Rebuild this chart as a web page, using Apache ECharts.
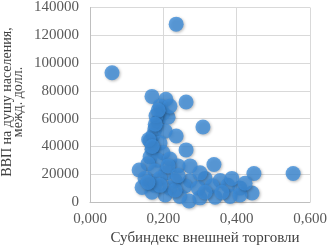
<!DOCTYPE html>
<html>
<head>
<meta charset="utf-8">
<script src="https://cdn.jsdelivr.net/npm/echarts@6/dist/echarts.min.js"></script>
<style>html,body{margin:0;padding:0;background:#fff}#c{width:332px;height:246px}</style>
</head>
<body>
<div id="c"></div>
<script>
const xTicks = ['0,000', '0,200', '0,400', '0,600'];
const yTicks = [0, 20000, 40000, 60000, 80000, 100000, 120000, 140000];
const tradeIndex = [
  0.235, 0.060, 0.169, 0.207, 0.262, 0.191, 0.199, 0.185, 0.213, 0.177,
  0.308, 0.172, 0.205, 0.235, 0.164, 0.191, 0.262, 0.169, 0.199, 0.164,
  0.185, 0.218, 0.158, 0.240, 0.273, 0.338, 0.134, 0.177, 0.207, 0.447,
  0.554, 0.150, 0.191, 0.232, 0.273, 0.314, 0.355, 0.142, 0.177, 0.218,
  0.259, 0.295, 0.333, 0.376, 0.409, 0.442, 0.205, 0.245, 0.270, 0.300,
  0.341, 0.382, 0.169, 0.409, 0.232, 0.314, 0.360, 0.191, 0.158, 0.213,
  0.300, 0.387, 0.423, 0.240, 0.180, 0.218, 0.186, 0.178, 0.160, 0.170
];
const gdpPerCapita = [
  128000, 93000, 76000, 74000, 72000, 69000, 64000, 58000, 61000, 52500,
  54000, 48000, 51000, 47500, 44000, 42500, 37500, 38000, 35500, 32500,
  30000, 31000, 27500, 26000, 26000, 27000, 23000, 22500, 21000, 20500,
  20500, 17000, 17000, 15500, 15500, 17000, 15500, 10500, 12000, 10000,
  11500, 10000, 11500, 12000, 10000, 6500, 5000, 4000, 700, 3000,
  3500, 4000, 7000, 5000, 8500, 7000, 7000, 12000, 14000, 26000,
  21000, 17000, 13500, 19000, 62000, 69000, 66000, 56000, 45000, 40000
];

const chart = echarts.init(document.getElementById('c'), null, {renderer: 'canvas'});
const serif = '"Liberation Serif", "Times New Roman", serif';
chart.setOption({
  animation: false,
  grid: {left: 90, right: 22, top: 5, bottom: 44},
  xAxis: {
    type: 'value', min: 0, max: 0.6, interval: 0.2,
    axisLine: {show: true, lineStyle: {color: '#bfbfbf'}},
    axisTick: {show: false},
    splitLine: {show: true, lineStyle: {color: '#d9d9d9'}},
    axisLabel: {
      color: '#595959', fontFamily: serif, fontSize: 15, margin: 10,
      formatter: (v) => xTicks[Math.round(v / 0.2)]
    }
  },
  yAxis: {
    type: 'value', min: 0, max: 140000, interval: 20000,
    axisLine: {show: true, lineStyle: {color: '#bfbfbf'}},
    axisTick: {show: false},
    splitLine: {show: true, lineStyle: {color: '#d9d9d9'}},
    axisLabel: {
      color: '#595959', fontFamily: serif, fontSize: 15, margin: 11,
      formatter: (v) => String(yTicks[Math.round(v / 20000)])
    }
  },
  graphic: [
    {type: 'text', x: 205, y: 238, style: {text: 'Субиндекс внешней торговли', fill: '#404040', font: '15px ' + serif, align: 'center', verticalAlign: 'middle'}},
    {type: 'text', x: 13, y: 102, rotation: Math.PI / 2, style: {text: 'ВВП на душу населения,\nмежд. долл.', fill: '#404040', font: '14px ' + serif, align: 'center', verticalAlign: 'middle', lineHeight: 11}}
  ],
  series: [{
    type: 'scatter',
    symbolSize: 15,
    data: tradeIndex.map((x, i) => [x, gdpPerCapita[i]]),
    itemStyle: {color: '#3d8cd8', shadowBlur: 3, shadowColor: 'rgba(0,0,0,0.35)', shadowOffsetX: 1, shadowOffsetY: 1}
  }]
});
</script>
</body>
</html>
